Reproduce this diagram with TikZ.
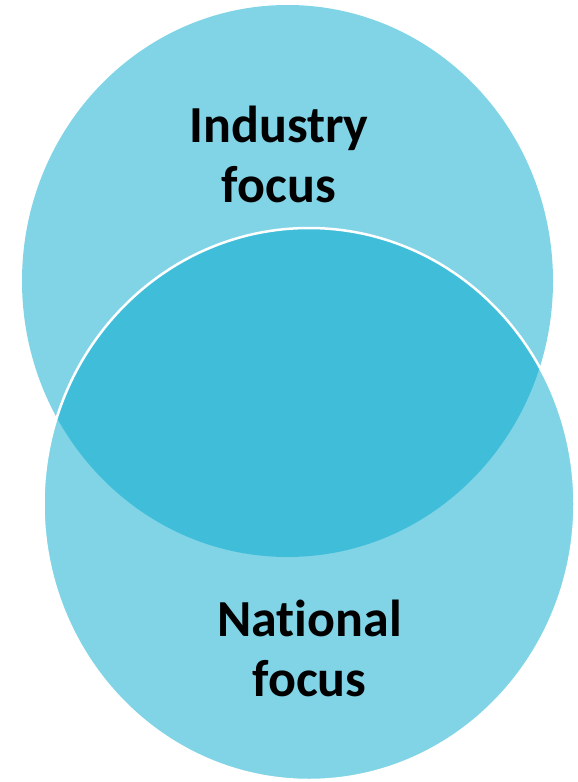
\documentclass[tikz,border=0pt]{standalone}
\usepackage{fontspec}
\setmainfont[Ligatures=NoCommon]{Carlito}
\usetikzlibrary{positioning, shapes.geometric}
\definecolor{vennblue}{RGB}{1,169,205}
\tikzset{venn/.style={ellipse, fill=vennblue, fill opacity=0.5, minimum width=531pt, minimum height=552pt, inner sep=0pt}}
\tikzset{vennlabel/.style={align=center, inner sep=0pt, font=\fontsize{52}{60}\selectfont\bfseries, text=black}}

\begin{document}
\begin{tikzpicture}[x=1pt, y=-1pt]
	\useasboundingbox (0,0) rectangle (578,782);
	\node[venn] (industry) at (287.5, 281) {};
	\node[venn, draw=white, draw opacity=1, line width=2.5pt] (national) at (309, 504) {};
	%
	\node[vennlabel, anchor=base] (industrytext) at (279, 202) {Industry\\focus};
	\node[vennlabel, anchor=base] (nationaltext) at (309.5, 696) {National\\focus};
\end{tikzpicture}
\end{document}
